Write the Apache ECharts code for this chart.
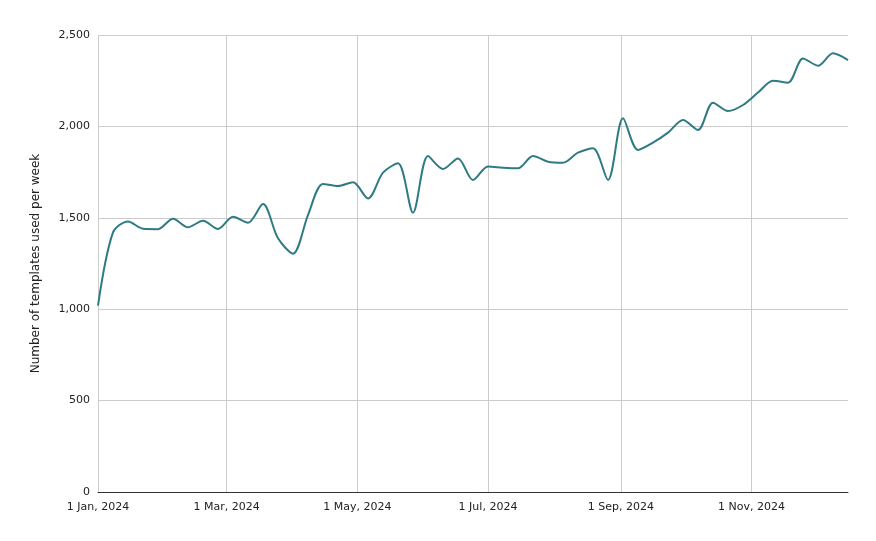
<!DOCTYPE html>
<html>
<head>
<meta charset="utf-8">
<script src="https://cdn.jsdelivr.net/npm/echarts@6/dist/echarts.min.js"></script>
<style>html,body{margin:0;padding:0;background:#fff}#c{width:876px;height:541px}</style>
</head>
<body>
<div id="c"></div>
<script>
const startDate = '2024-01-01';
const weeklyValues = [
  1020, 1420, 1480, 1440, 1438, 1495, 1448, 1484, 1439, 1506,
  1473, 1575, 1388, 1304, 1515, 1685, 1674, 1694, 1606, 1747,
  1798, 1528, 1838, 1767, 1825, 1707, 1780, 1774, 1771, 1838,
  1807, 1801, 1856, 1880, 1707, 2044, 1871, 1911, 1966, 2035,
  1980, 2130, 2084, 2117, 2185, 2250, 2239, 2372, 2332, 2400, 2363
];
const xTickDates = ['2024-01-01','2024-03-01','2024-05-01','2024-07-01','2024-09-01','2024-11-01'];
const monthNames = ['Jan','Feb','Mar','Apr','May','Jun','Jul','Aug','Sep','Oct','Nov','Dec'];
const yTicks = [0, 500, 1000, 1500, 2000, 2500];

const DAY = 86400000;
const t0 = Date.parse(startDate + 'T00:00:00Z');
const seriesData = weeklyValues.map((v, i) => [t0 + i * 7 * DAY, v]);
const tickTs = xTickDates.map(d => Date.parse(d + 'T00:00:00Z'));

const font = 'DejaVu Sans';
const chart = echarts.init(document.getElementById('c'), null, {renderer: 'canvas'});
chart.setOption({
  animation: false,
  grid: {left: 98, right: 28, top: 35, bottom: 49, containLabel: false},
  xAxis: {
    type: 'value',
    min: seriesData[0][0],
    max: seriesData[seriesData.length - 1][0],
    axisLine: {show: true, onZero: false, lineStyle: {color: '#333', width: 1}},
    axisTick: {show: false, customValues: tickTs},
    axisLabel: {
      customValues: tickTs,
      showMinLabel: true, showMaxLabel: true,
      fontFamily: font, fontSize: 11, color: '#222', margin: 10,
      formatter: function (val) {
        const d = new Date(val);
        return d.getUTCDate() + ' ' + monthNames[d.getUTCMonth()] + ', ' + d.getUTCFullYear();
      }
    },
    splitLine: {show: false}
  },
  yAxis: {
    type: 'value',
    min: 0, max: 2500, interval: 500,
    name: 'Number of templates used per week',
    nameLocation: 'middle',
    nameGap: 56,
    nameTextStyle: {fontFamily: font, fontSize: 12, color: '#222'},
    axisLine: {show: false},
    axisTick: {show: false},
    axisLabel: {
      fontFamily: font, fontSize: 11, color: '#222', margin: 8,
      formatter: v => v.toLocaleString('en-US')
    },
    splitLine: {show: true, lineStyle: {color: '#cccccc', width: 1}}
  },
  series: [{
    type: 'line',
    data: seriesData,
    smooth: 0.3,
    showSymbol: false,
    lineStyle: {color: '#2e7b83', width: 2},
    z: 3,
    markLine: {
      silent: true,
      symbol: 'none',
      label: {show: false},
      lineStyle: {color: '#cccccc', width: 1, type: 'solid'},
      z: 1,
      data: tickTs.map(t => ({xAxis: t}))
    }
  }]
});
</script>
</body>
</html>
